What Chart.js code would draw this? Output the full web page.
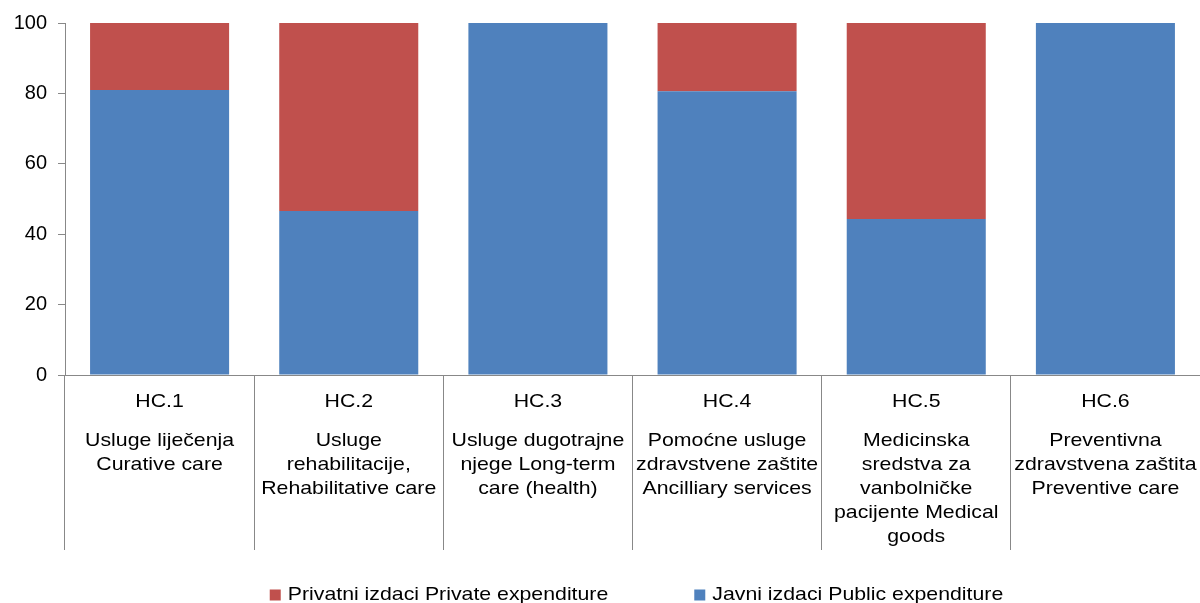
<!DOCTYPE html>
<html>
<head>
<meta charset="utf-8">
<script src="https://cdn.jsdelivr.net/npm/chart.js@4/dist/chart.umd.min.js"></script>
<style>
  html, body { margin: 0; padding: 0; background: #fff; }
  #wrap { width: 1200px; height: 603px; position: relative; }
</style>
</head>
<body>
<div id="wrap"><canvas id="c" width="1200" height="603"></canvas></div>
<script>
const categories = ['HC.1', 'HC.2', 'HC.3', 'HC.4', 'HC.5', 'HC.6'];
const categoryDescriptions = [
  ['Usluge liječenja', 'Curative care'],
  ['Usluge', 'rehabilitacije,', 'Rehabilitative care'],
  ['Usluge dugotrajne', 'njege Long-term', 'care (health)'],
  ['Pomoćne usluge', 'zdravstvene zaštite', 'Ancilliary services'],
  ['Medicinska', 'sredstva za', 'vanbolničke', 'pacijente Medical', 'goods'],
  ['Preventivna', 'zdravstvena zaštita', 'Preventive care']
];
const publicExpenditure = [81.0, 46.6, 100, 80.6, 44.3, 100];
const privateExpenditure = [19.0, 53.4, 0, 19.4, 55.7, 0];
const seriesNames = ['Javni izdaci Public expenditure', 'Privatni izdaci Private expenditure'];
const yTicks = [0, 20, 40, 60, 80, 100];

const FONT = '"Liberation Sans", Arial, sans-serif';
const STRETCH = 1.12;
const AXIS_GRAY = '#888888';

function stretchedText(ctx, text, x, y, align) {
  ctx.save();
  ctx.translate(x, y);
  ctx.scale(STRETCH, 1);
  ctx.textAlign = align;
  ctx.fillText(text, 0, 0);
  ctx.restore();
}

const categoryLabelPlugin = {
  id: 'categoryLabels',
  afterDraw(chart) {
    const { ctx } = chart;
    const xs = chart.scales.x;
    ctx.save();
    ctx.fillStyle = '#000';
    ctx.font = '19px ' + FONT;
    ctx.textBaseline = 'middle';
    categories.forEach((cat, i) => {
      const cx = xs.getPixelForValue(i);
      stretchedText(ctx, cat, cx, xs.top + 27, 'center');
      categoryDescriptions[i].forEach((line, j) => {
        stretchedText(ctx, line, cx, xs.top + 66 + j * 24, 'center');
      });
    });
    ctx.restore();
  }
};

const bottomLegendPlugin = {
  id: 'bottomLegend',
  afterDraw(chart) {
    const { ctx, chartArea } = chart;
    const items = chart.data.datasets.slice().reverse();
    ctx.save();
    ctx.font = '19px ' + FONT;
    ctx.textBaseline = 'middle';
    const box = 11, gap = 7, spacing = 86;
    const widths = items.map(d => ctx.measureText(d.label).width * STRETCH);
    let total = 0;
    widths.forEach((w, i) => { total += box + gap + w + (i < widths.length - 1 ? spacing : 0); });
    let x = (chartArea.left + chartArea.right) / 2 - total / 2 + 4;
    const y = 595;
    items.forEach((d, i) => {
      ctx.fillStyle = d.backgroundColor;
      ctx.fillRect(x, y - box / 2, box, box);
      ctx.fillStyle = '#000';
      stretchedText(ctx, d.label, x + box + gap, y, 'left');
      x += box + gap + widths[i] + spacing;
    });
    ctx.restore();
  }
};

Chart.defaults.font.family = FONT;
Chart.defaults.color = '#000';

new Chart(document.getElementById('c'), {
  type: 'bar',
  data: {
    labels: categories,
    datasets: [
      {
        label: seriesNames[0],
        data: publicExpenditure,
        backgroundColor: '#4F81BD',
        borderWidth: 0,
        barPercentage: 0.735,
        categoryPercentage: 1.0
      },
      {
        label: seriesNames[1],
        data: privateExpenditure,
        backgroundColor: '#C0504D',
        borderWidth: 0,
        barPercentage: 0.735,
        categoryPercentage: 1.0
      }
    ]
  },
  options: {
    responsive: false,
    animation: false,
    layout: { padding: { top: 23, right: 0, bottom: 0, left: 0 } },
    plugins: {
      legend: { display: false },
      tooltip: { enabled: false }
    },
    scales: {
      x: {
        stacked: true,
        ticks: { display: false },
        grid: {
          display: true,
          offset: true,
          drawOnChartArea: false,
          drawTicks: true,
          tickLength: 175,
          color: (c) => (c.index === undefined ? 'rgba(0,0,0,0)' : AXIS_GRAY),
          lineWidth: 1
        },
        border: { display: true, color: AXIS_GRAY, width: 1 },
        afterFit(scale) { scale.height = 228; }
      },
      y: {
        stacked: true,
        min: 0,
        max: 100,
        afterBuildTicks(scale) { scale.ticks = yTicks.map(v => ({ value: v })); },
        ticks: {
          font: { size: 20, family: FONT },
          color: '#000',
          padding: 11
        },
        grid: {
          display: true,
          drawOnChartArea: false,
          drawTicks: true,
          tickLength: 7,
          color: AXIS_GRAY
        },
        border: { display: true, color: AXIS_GRAY, width: 1 },
        afterFit(scale) { scale.width = 65; }
      }
    }
  },
  plugins: [categoryLabelPlugin, bottomLegendPlugin]
});
</script>
</body>
</html>
